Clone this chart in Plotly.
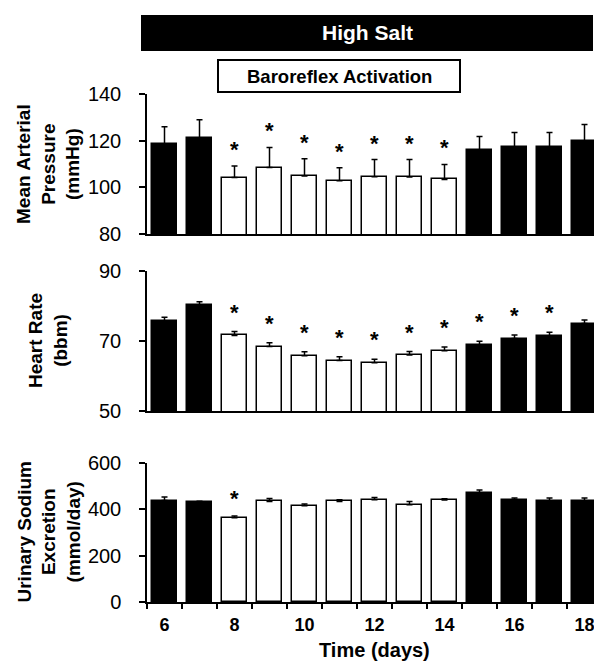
import plotly.graph_objects as go

# ---------------- data ----------------
days = list(range(6, 19))
phase = ["HS", "HS", "BA", "BA", "BA", "BA", "BA", "BA", "BA", "HS", "HS", "HS", "HS"]

map_mean = [118.6, 121.3, 104.2, 108.5, 104.9, 102.8, 104.5, 104.4, 103.4, 115.9, 117.3, 117.1, 119.9]
map_sem = [7.4, 7.7, 4.9, 8.6, 7.3, 5.6, 7.4, 7.5, 6.4, 5.9, 6.2, 6.4, 7.0]
map_sig = [0, 0, 1, 1, 1, 1, 1, 1, 1, 0, 0, 0, 0]

hr_mean = [75.7, 80.2, 71.6, 68.4, 65.8, 64.4, 63.8, 66.0, 67.2, 68.9, 70.7, 71.4, 75.0]
hr_sem = [1.1, 1.0, 1.1, 1.1, 1.1, 1.1, 1.0, 1.0, 1.1, 1.0, 1.0, 1.1, 1.0]
hr_sig = [0, 0, 1, 1, 1, 1, 1, 1, 1, 1, 1, 1, 0]

una_mean = [438, 430, 364, 434, 416, 434, 441, 420, 440, 470, 440, 436, 436]
una_sem = [15, 5, 7, 13, 7, 7, 10, 14, 6, 13, 9, 13, 13]
una_sig = [0, 0, 1, 0, 0, 0, 0, 0, 0, 0, 0, 0, 0]

x_ticks = [6, 8, 10, 12, 14, 16, 18]
map_ticks = [80, 100, 120, 140]
hr_ticks = [50, 70, 90]
una_ticks = [0, 200, 400, 600]

# ---------------- layout geometry (pixels) ----------------
W, H = 602, 667
L, R = 139, 594
T, B = 86, 594
FONT = "Liberation Sans, Arial, sans-serif"


def py(ypx):
    return (B - ypx) / (B - T)


def px(xpx):
    return (xpx - L) / (R - L)


colors = ["white" if p == "BA" else "black" for p in phase]

panels = [
    (map_mean, map_sem, map_sig, map_ticks, [80, 140], (86, 226), "Mean Arterial<br>Pressure<br>(mmHg)", 2),
    (hr_mean, hr_sem, hr_sig, hr_ticks, [50, 90], (263, 403), "Heart Rate<br>(bbm)", 5),
    (una_mean, una_sem, una_sig, una_ticks, [0, 600], (455, 594), "Urinary Sodium<br>Excretion<br>(mmol/day)", 3),
]

fig = go.Figure()
annotations = []
layout = {}

for i, (mean, sem, sig, ticks, yr, (top, bot), title, star_shift) in enumerate(panels, start=1):
    xa = "x" if i == 1 else f"x{i}"
    ya = "y" if i == 1 else f"y{i}"
    fig.add_trace(go.Bar(
        x=days, y=mean, width=0.74,
        marker=dict(color=colors, line=dict(color="black", width=1.5)),
        error_y=dict(type="data", symmetric=False, array=sem,
                     arrayminus=[0] * len(sem), color="black", thickness=1.5, width=3),
        xaxis=xa, yaxis=ya, showlegend=False,
    ))
    for d, m, s, g in zip(days, mean, sem, sig):
        if g:
            annotations.append(dict(
                x=d, y=m + s, xref=xa, yref=ya, text="*", showarrow=False,
                yanchor="bottom", yshift=star_shift,
                font=dict(family=FONT, size=22, color="black", weight="bold"),
            ))
    xkey = "xaxis" if i == 1 else f"xaxis{i}"
    ykey = "yaxis" if i == 1 else f"yaxis{i}"
    xdict = dict(
        domain=[0, 1], anchor=ya, range=[5.5, 18.5],
        showline=True, linecolor="black", linewidth=1.5,
        showgrid=False, zeroline=False, fixedrange=True,
    )
    if i == 3:
        xdict.update(
            tickmode="array", tickvals=x_ticks, ticks="",
            tickfont=dict(family=FONT, size=18, color="black", weight="bold"),
            ticklabelstandoff=6,
            minor=dict(tickmode="array", tickvals=[d + 0.5 for d in [5] + days],
                       ticks="outside", ticklen=5, tickwidth=1.5, tickcolor="black"),
        )
    else:
        xdict.update(showticklabels=False, ticks="")
    layout[xkey] = xdict
    layout[ykey] = dict(
        domain=[py(bot), py(top)], anchor=xa, range=yr,
        tickmode="array", tickvals=ticks,
        ticks="outside", ticklen=6, tickwidth=1.5, tickcolor="black",
        showline=True, linecolor="black", linewidth=1.5,
        showgrid=False, zeroline=False, fixedrange=True,
        tickfont=dict(family=FONT, size=20, color="black"),
        ticklabelstandoff=14,
    )
    annotations.append(dict(
        x=px(40), y=py((top + bot) / 2), xref="paper", yref="paper",
        text=title, textangle=-90, showarrow=False,
        xanchor="center", yanchor="middle",
        font=dict(family=FONT, size=19, color="black", weight="bold"),
    ))

# x-axis title
annotations.append(dict(
    x=0.5, y=py(642), xref="paper", yref="paper", text="Time (days)",
    showarrow=False, xanchor="center", yanchor="middle",
    font=dict(family=FONT, size=20, color="black", weight="bold"),
))

# protocol bars
shapes = [
    dict(type="rect", xref="paper", yref="paper",
         x0=px(133), x1=px(585), y0=py(43), y1=py(7),
         fillcolor="black", line=dict(color="black", width=0)),
    dict(type="rect", xref="paper", yref="paper",
         x0=px(210), x1=px(452), y0=py(84), y1=py(52),
         fillcolor="white", line=dict(color="black", width=2)),
]
annotations.append(dict(
    x=(px(133) + px(585)) / 2, y=py(25), xref="paper", yref="paper",
    text="High Salt", showarrow=False, xanchor="center", yanchor="middle",
    font=dict(family=FONT, size=21, color="white", weight="bold"),
))
annotations.append(dict(
    x=(px(210) + px(452)) / 2, y=py(68), xref="paper", yref="paper",
    text="Baroreflex Activation", showarrow=False, xanchor="center", yanchor="middle",
    font=dict(family=FONT, size=18.5, color="black", weight="bold"),
))

fig.update_layout(
    width=W, height=H, autosize=False,
    margin=dict(l=L, r=W - R, t=T, b=H - B, pad=0),
    paper_bgcolor="white", plot_bgcolor="white",
    bargap=0, barmode="overlay",
    annotations=annotations, shapes=shapes,
    font=dict(family=FONT, color="black"),
    **layout,
)

fig.write_html("out.html", include_plotlyjs=True, config={"displayModeBar": False})
